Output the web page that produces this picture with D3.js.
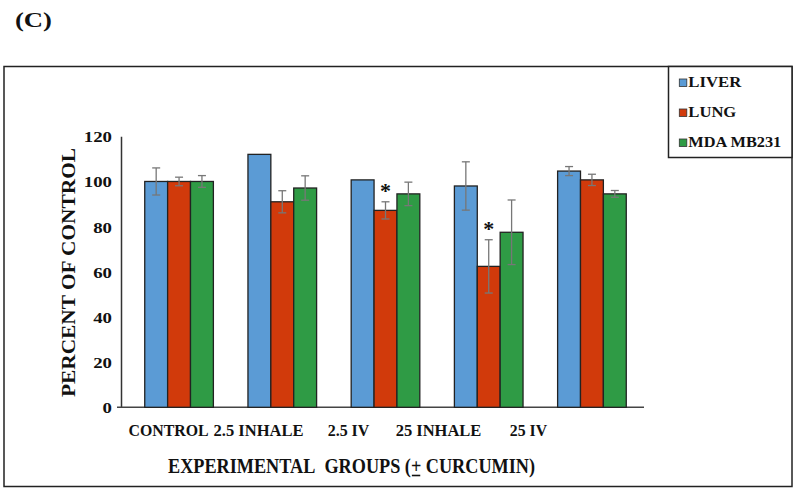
<!DOCTYPE html>
<html><head><meta charset="utf-8">
<script src="https://cdn.jsdelivr.net/npm/d3@7"></script>
<style>body{margin:0;background:#fff}svg{display:block}</style>
</head><body><svg id="c" width="800" height="492"></svg>
<script>
const categories = ["CONTROL", "2.5 INHALE", "2.5 IV", "25 INHALE", "25 IV"];
const seriesNames = ["LIVER", "LUNG", "MDA MB231"];
const liver = [100, 112, 100.7, 98, 104.6];
const lung = [100, 91, 87.2, 62.4, 100.7];
const mda = [100, 97.1, 94.5, 77.5, 94.5];
const liverErr = [6, 0, 0, 10.7, 2];
const lungErr = [1.9, 4.9, 3.8, 11.8, 2.5];
const mdaErr = [2.6, 5.4, 5.2, 14.3, 1.5];
const starCategories = ["2.5 IV", "25 INHALE"];
const yTicks = [0, 20, 40, 60, 80, 100, 120];
const colors = ["#5B9BD5", "#D13A0B", "#2F9B45"];

const FONT = "'Liberation Serif', 'Times New Roman', Tinos, 'DejaVu Serif', serif";
const svg = d3.select("#c");
const values = [liver, lung, mda], errs = [liverErr, lungErr, mdaErr];
function T(sel){ return sel.style("font-family",FONT).style("font-weight","bold").style("fill","#111"); }
function fit(sel, w){ return sel.attr("textLength", w).attr("lengthAdjust","spacingAndGlyphs"); }

// outer frame
svg.append("rect").attr("x",4).attr("y",66.5).attr("width",788).attr("height",420)
  .attr("fill","none").attr("stroke","#222").attr("stroke-width",1.5);
fit(T(svg.append("text").attr("x",15).attr("y",27).style("font-size","22px").text("(C)")), 37);

const y = d3.scaleLinear().domain([0,120]).range([407.3,136.3]);
const x0 = d3.scaleBand().domain(categories).range([121,650]).paddingInner(0.335).paddingOuter(0.23);
const x1 = d3.scaleBand().domain(seriesNames).range([0,x0.bandwidth()]);
// category label positions (label row is evenly spaced, independent of the bar groups)
const xl = d3.scalePoint().domain(categories).range([168,528]);
const labelWidths = [80, 90, 41.7, 85.7, 37.3];

// y axis
const yAxis = svg.append("g").attr("transform","translate(121,0)")
  .call(d3.axisLeft(y).tickValues(yTicks).tickSize(0).tickPadding(9));
yAxis.select(".domain").attr("stroke","#333").attr("stroke-width",1.5);
T(yAxis.selectAll("text")).style("font-size","15px").attr("dy","0.36em")
  .each(function(d){ fit(d3.select(this), String(d).length*9.4); });

// x baseline
svg.append("line").attr("x1",117).attr("x2",644).attr("y1",y(0)).attr("y2",y(0))
  .attr("stroke","#444").attr("stroke-width",1.5);

// category labels
const xAxis = svg.append("g").attr("transform","translate(0,435.7)")
  .call(d3.axisBottom(xl).tickSize(0).tickPadding(0));
xAxis.select(".domain").remove();
T(xAxis.selectAll("text")).style("font-size","16px").attr("dy",0).attr("y",0)
  .each(function(d,i){ fit(d3.select(this), labelWidths[i]); });

// bars
const groups = svg.append("g").selectAll("g").data(categories).join("g")
  .attr("transform",c=>`translate(${x0(c)},0)`);
seriesNames.forEach((s,si)=>{
  groups.append("rect")
    .attr("x",x1(s)).attr("width",x1.bandwidth())
    .attr("y",(c,i)=>y(values[si][i])).attr("height",(c,i)=>y(0)-y(values[si][i]))
    .attr("fill",colors[si]).attr("stroke","#222").attr("stroke-width",1.3);
});
// error bars
seriesNames.forEach((s,si)=>{
  groups.each(function(c,i){
    const e = errs[si][i]; if(!e) return;
    const cx = x1(s)+x1.bandwidth()/2, g=d3.select(this);
    const v = values[si][i];
    g.append("line").attr("x1",cx).attr("x2",cx).attr("y1",y(v+e)).attr("y2",y(v-e)).attr("stroke","#777").attr("stroke-width",1.3);
    [v+e,v-e].forEach(t=>g.append("line").attr("x1",cx-4).attr("x2",cx+4).attr("y1",y(t)).attr("y2",y(t)).attr("stroke","#777").attr("stroke-width",1.3));
  });
});
// significance stars
starCategories.forEach(c=>{
  const i = categories.indexOf(c);
  T(svg.append("text").attr("x",x0(c)+x1("LUNG")+x1.bandwidth()/2)
    .attr("y",y(lung[i]+lungErr[i])-4).attr("text-anchor","middle").style("font-size","22px").text("*"));
});

// axis titles
fit(T(svg.append("text").attr("transform","translate(75,272.5) rotate(-90)").attr("text-anchor","middle")
  .style("font-size","18.5px").text("PERCENT OF CONTROL")), 249);
const xTitle = "EXPERIMENTAL\u00a0 GROUPS (+ CURCUMIN)";
const xt = fit(T(svg.append("text").attr("x",168).attr("y",473.3).style("font-size","20px").text(xTitle)), 367);
// underline beneath the "+" sign
try {
  const k = xTitle.indexOf("+");
  const ext = xt.node().getExtentOfChar(k);
  svg.append("line").attr("x1",ext.x+1).attr("x2",ext.x+ext.width-1)
    .attr("y1",475.5).attr("y2",475.5).attr("stroke","#111").attr("stroke-width",1.6);
} catch(e) {}

// legend
svg.append("rect").attr("x",668.5).attr("y",66.5).attr("width",123.5).attr("height",91)
  .attr("fill","#fff").attr("stroke","#222").attr("stroke-width",1.5);
const legW = [53, 48, 93];
const leg = svg.append("g").selectAll("g").data(seriesNames).join("g")
  .attr("transform",(d,i)=>`translate(679.3,${86.7+i*30})`);
leg.append("rect").attr("x",0).attr("y",-7.7).attr("width",7.5).attr("height",7.5)
  .attr("fill",(d,i)=>colors[i]).attr("stroke","#333").attr("stroke-width",0.8);
T(leg.append("text").attr("x",9).attr("y",0).style("font-size","15px").text(d=>d))
  .each(function(d,i){ fit(d3.select(this), legW[i]); });
</script></body></html>
